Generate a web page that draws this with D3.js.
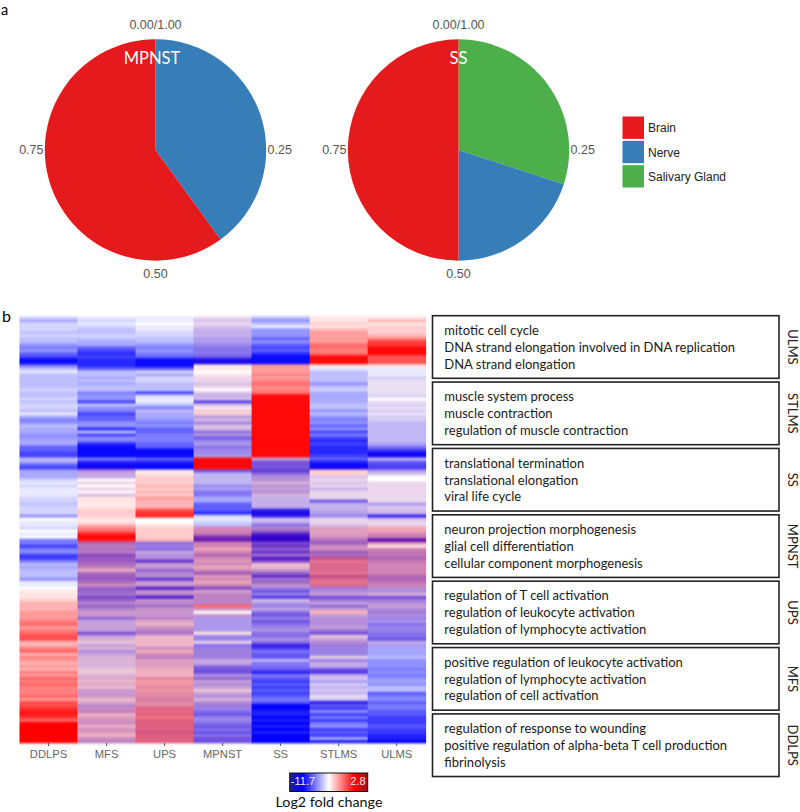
<!DOCTYPE html>
<html><head><meta charset="utf-8">
<script src="https://cdnjs.cloudflare.com/ajax/libs/d3/7.8.5/d3.min.js"></script>
<style>html,body{margin:0;padding:0;background:#fff}svg{display:block}</style>
</head><body><svg id="c" width="800" height="812"></svg>
<script>
// Pie data
const tissues = ["Brain","Nerve","Salivary Gland"];
const tissueColors = ["#e41a1c","#377eb8","#4daf4a"];
const mpnstShares = [{t:"Nerve",v:0.4},{t:"Brain",v:0.6}];
const ssShares = [{t:"Salivary Gland",v:0.3},{t:"Nerve",v:0.2},{t:"Brain",v:0.5}];

// Heatmap data: scaled fold-change level per row, -10 (full blue) to 10 (full red)
const sarcomas = ["DDLPS","MFS","UPS","MPNST","SS","STLMS","ULMS"];
const DDLPS = [-2,-4,-2,-2,-2,-3,-2,-3,-3,-5,
-6,-5,-7,-8,-10,-10,-6,-3,-1,-3,
-3,-3,-3,-3,-2,-3,-3,-2,-3,-2,
-2,-3,-1,-4,-6,-5,-3,-4,-4,-5,
-5,-4,-4,-7,-7,-8,-8,-3,-4,-7,
-8,-4,-4,-4,-2,-1,-2,-1,-1,-1,
-2,-2,-3,-2,-2,-2,-5,0,-1,-1,
-2,0,-1,0,-6,-6,-8,-6,-5,-8,
-8,-6,-3,-4,-3,-3,-3,-5,-1,-1,
0,1,1,1,2,3,3,3,4,4,
4,5,6,4,5,6,7,7,3,3,
5,6,3,5,4,3,4,3,5,4,
6,5,6,5,5,5,6,4,7,7,
8,9,9,8,6,10,10,10,10,10,
10,10];
const MFS = [-1,-2,-1,-2,-3,-3,-2,-3,-4,-4,
-7,-8,-9,-8,-9,-9,-9,-7,-3,-3,
-4,-3,-4,-3,-3,-6,-5,-5,-8,-3,
-5,-6,-8,-7,-7,-5,-5,-9,-3,-8,
-5,-6,-9,-10,-10,-10,-10,-6,-9,-10,
-10,-4,-3,-3,0,-1,0,-1,0,-2,
1,1,1,1,2,2,2,1,1,3,
5,6,9,10,9,-5,-4,-5,-4,-7,
-6,-6,-5,-4,-1,-5,-6,-6,-5,-3,
-6,-6,-5,-7,-6,-4,-6,-4,-3,-3,
-6,-3,-3,-3,-3,-7,-3,-2,-1,-3,
-2,-4,-3,-2,-2,-2,-2,-1,-1,-2,
-2,-1,-2,-1,-3,-3,-3,-1,-2,-4,
-3,-4,-1,-2,-3,-3,-1,-3,-2,-1,
-3,-4];
const UPS = [-1,-1,0,-1,-1,-2,-2,-3,-3,-5,
-6,-5,-6,-7,-10,-10,-10,-7,-2,-4,
-2,-2,-3,-3,-3,-8,-2,-1,-1,-3,
-6,-3,-4,-4,-5,-6,-5,-7,-7,-6,
-6,-6,-7,-7,-10,-10,-10,-7,-9,-10,
-10,1,1,2,2,2,3,2,3,2,
4,3,3,3,7,8,9,0,0,1,
2,2,2,2,3,-6,-5,-6,-3,-4,
-4,-8,-3,-3,-6,-4,-4,-8,-3,-3,
-9,-3,-4,-9,-3,-4,-5,-3,-3,-3,
-4,-2,-1,-3,-4,-5,-1,-1,-1,-1,
-3,-1,-3,-4,-2,-2,-2,-1,-1,-1,
-2,-1,-1,-2,-1,-2,-2,-3,-2,-2,
-3,-2,-3,-1,-3,-3,-3,-3,-4,-3,
-3,-3];
const MPNST = [-1,-2,-1,-2,-3,-3,-3,-4,-4,-5,
-6,-6,-6,-7,-10,-10,1,1,0,1,
-1,-1,-2,-1,0,-2,-3,-2,-8,-2,
1,-1,2,-4,-2,-5,-2,-2,-6,-4,
-7,-5,-4,-6,-5,-5,-4,10,10,10,
10,-7,-3,-3,-3,-3,-5,-4,-6,-6,
-4,-4,-7,-7,-7,-9,-2,-1,-2,-3,
-3,-3,-4,-8,-9,-3,-3,-1,-3,-5,
-3,-2,-3,-1,-3,-6,-2,-3,-1,-3,
-7,-2,-4,-4,-4,-4,6,-3,0,-3,
-4,-4,-4,-4,-4,1,-5,-5,-1,-6,
-5,-5,-5,-5,-3,-3,-6,-7,-7,-4,
-6,-3,-4,-3,-1,-3,-4,-2,-4,-5,
-5,-6,-7,-5,-5,-6,-7,-6,-7,-6,
-7,-7];
const SS = [-3,-5,-3,-1,-5,-5,-5,-7,-5,-7,
-8,-7,-9,-10,-10,-10,4,4,4,5,
4,5,6,5,5,6,10,10,10,10,
10,10,10,10,10,10,10,10,10,10,
10,10,10,10,10,10,10,-3,-7,-7,
-7,-8,-6,-4,-4,-2,-4,-3,-4,-2,
-3,-3,-3,-3,-9,-10,-9,-2,-3,-6,
-4,-6,-9,-10,-10,-7,-8,-6,-8,-5,
-9,-7,-1,-1,-3,-6,-8,-5,-6,-3,
-5,-7,-5,-8,-2,-4,-5,-3,-6,-7,
-5,-7,-6,-5,-4,-6,-6,-4,-6,-9,
-8,-6,-7,-7,-3,-6,-6,-7,-9,-6,
-7,-8,-7,-8,-7,-8,-7,-6,-7,-10,
-10,-9,-9,-10,-9,-10,-9,-10,-9,-10,
-10,-10];
const STLMS = [1,1,2,1,3,4,4,4,4,6,
6,5,6,10,10,10,1,-1,-3,-3,
-3,-3,-5,-3,-2,-4,-4,-4,-4,-3,
-3,-5,-3,-5,-6,-5,-7,-5,-8,-6,
-8,-9,-8,-9,-9,-9,-8,-7,-9,-10,
-10,2,2,-2,-1,-2,-1,-3,-1,-1,
-1,-7,-3,-3,-3,-4,-5,-1,-1,-2,
-2,-2,-2,-3,-5,-6,-3,-3,-6,-5,
-5,-2,-3,-3,-3,-2,-5,-3,-2,-3,
-5,-4,-3,-7,-5,-3,-6,-3,3,-3,
-4,-4,-4,-3,-5,-7,-1,-3,-4,-5,
-5,-5,-5,-1,-5,-3,-3,-7,-8,-3,
-2,-4,-2,-3,-2,-3,-1,-2,-9,-7,
-8,-5,-8,-6,-8,-6,-5,-8,-7,-8,
-4,-9];
const ULMS = [1,3,1,2,2,2,3,5,8,8,
10,10,10,7,7,7,1,-1,-1,-1,
-2,-1,-1,-1,-1,-1,-2,0,-1,-2,
-1,-2,-1,-2,-2,-3,-3,-3,-3,-3,
-3,-3,-4,-6,-8,-10,-10,-3,-7,-8,
-8,-4,-2,0,0,-1,-1,-1,-1,-1,
-1,-1,-4,-2,-2,-3,-9,-2,-1,-1,
-1,-1,-3,-4,-10,-2,1,-3,-4,-4,
-5,-4,-3,-3,-3,-3,-5,-5,-4,-3,
-4,-4,-2,-7,-5,-4,-3,-4,-5,-4,
-5,-4,-6,-5,-5,-6,-6,-7,-3,-4,
-4,-4,-4,-3,-5,-5,-5,-6,-5,-6,
-5,-4,-5,-3,-3,-7,-6,-5,-7,-6,
-6,-7,-7,-8,-8,-8,-7,-8,-8,-9,
-9,-10];
// Red admixture of finely interleaved rows, one value per 10 heatmap rows
const DDLPSmix = [0,0,0,0,0,0,0,0,0,0,0,0,0,0,0];
const MFSmix = [0,0,0,0,0,.12,0,.25,.25,.2,.15,.15,.2,.25,.25];
const UPSmix = [0,0,0,0,0,0,0,.12,.18,.2,.22,.25,.35,.5,.5];
const MPNSTmix = [.08,.08,.1,.12,.08,.05,0,.3,.28,.22,.08,.12,.15,.08,.12];
const SSmix = [0,0,0,0,.15,.15,.08,.2,.2,.1,.1,.04,0,0,0];
const STLMSmix = [0,0,0,0,0,.08,.08,.25,.45,.15,.15,.1,.05,0,0];
const ULMSmix = [0,0,.04,.04,.04,.08,.08,.3,.3,.15,.08,0,0,0,0];

const terms = [
 ["ULMS",["mitotic cell cycle","DNA strand elongation involved in DNA replication","DNA strand elongation"]],
 ["STLMS",["muscle system process","muscle contraction","regulation of muscle contraction"]],
 ["SS",["translational termination","translational elongation","viral life cycle"]],
 ["MPNST",["neuron projection morphogenesis","glial cell differentiation","cellular component morphogenesis"]],
 ["UPS",["regulation of T cell activation","regulation of leukocyte activation","regulation of lymphocyte activation"]],
 ["MFS",["positive regulation of leukocyte activation","regulation of lymphocyte activation","regulation of cell activation"]],
 ["DDLPS",["regulation of response to wounding","positive regulation of alpha-beta T cell production","fibrinolysis"]]
];
const pieTicks = [["0.00/1.00",0],["0.25",.25],["0.50",.5],["0.75",.75]];
const colorbarLabels = ["-11.7","2.8"];

const svg = d3.select("#c");
const serif = "Lato, 'Open Sans', sans-serif", sans = "'Liberation Sans', Arial, sans-serif";
const tissueColor = d3.scaleOrdinal(tissues, tissueColors);

// ---------- panel labels
svg.append("text").attr("x",1).attr("y",14.5).attr("font-family",serif).attr("font-size",14.5).text("a");
svg.append("text").attr("x",2).attr("y",322).attr("font-family",serif).attr("font-size",16).text("b");

// ---------- pies
function drawPie(cx, cy, r, shares, title){
  const g = svg.append("g").attr("transform",`translate(${cx},${cy})`);
  const pie = d3.pie().sort(null).value(d=>d.v);
  const arc = d3.arc().innerRadius(0).outerRadius(r);
  g.selectAll("path").data(pie(shares)).join("path").attr("d",arc).attr("fill",d=>tissueColor(d.data.t));
  const ang = d3.scaleLinear().domain([0,1]).range([0,2*Math.PI]);
  g.selectAll("text.tk").data(pieTicks).join("text").attr("class","tk")
   .attr("x",d=>Math.sin(ang(d[1]))*(d[1]===0||d[1]===.5?0:r+13.5))
   .attr("y",d=>d[1]===0?-124:d[1]===.5?125:1)
   .attr("text-anchor","middle").attr("dominant-baseline","middle")
   .attr("font-family",sans).attr("font-size",12.5).attr("fill","#555").text(d=>d[0]);
  g.append("text").attr("x",title==="SS"?0:-3.5).attr("y",-90).attr("text-anchor","middle").attr("dominant-baseline","middle")
   .attr("font-family",serif).attr("font-size",16.5).attr("fill","#fff").text(title);
}
drawPie(155.5,150,110.7,mpnstShares,"MPNST");
drawPie(458.5,150,110.7,ssShares,"SS");

// pie legend
const legY = d3.scaleBand().domain(tissues).range([116,188]).paddingInner(0.08).paddingOuter(0.02);
const leg = svg.append("g");
leg.selectAll("rect").data(tissues).join("rect").attr("x",622.5).attr("width",21.5)
  .attr("y",d=>legY(d)).attr("height",legY.bandwidth()).attr("fill",d=>tissueColor(d));
leg.selectAll("text").data(tissues).join("text").attr("x",648).attr("y",d=>legY(d)+legY.bandwidth()/2+1.5)
  .attr("dominant-baseline","middle").attr("font-family",sans).attr("font-size",12).attr("fill","#222").text(d=>d);

// ---------- heatmap
const columns = [DDLPS,MFS,UPS,MPNST,SS,STLMS,ULMS];
const mixes = [DDLPSmix,MFSmix,UPSmix,MPNSTmix,SSmix,STLMSmix,ULMSmix];
const nRows = DDLPS.length;
const x = d3.scaleBand().domain(sarcomas).range([19.5,425.7]);
const y = d3.scaleBand().domain(d3.range(nRows)).range([316.3,743]);
const level = d3.scaleLinear().domain([-10,-6,0,10]).range(["#0000ff","#7a7aff","#ffffff","#ff0000"]);
const defs = svg.append("defs");
defs.append("filter").attr("id","soft").attr("x","0").attr("width","1").attr("y","-0.01").attr("height","1.02")
  .attr("color-interpolation-filters","sRGB")
  .append("feGaussianBlur").attr("stdDeviation","0 0.8");
const hm = svg.append("g").attr("filter","url(#soft)");
sarcomas.forEach((name,c)=>{
  hm.append("g").selectAll("rect").data(columns[c]).join("rect")
    .attr("x",x(name)).attr("width",x.bandwidth()+.4)
    .attr("y",(d,i)=>y(i)).attr("height",y.bandwidth()+.3)
    .attr("fill",(d,i)=>{
      const m = d<0 ? mixes[c][Math.floor(i/10)] : 0;
      return d3.interpolateRgb(level(d),"#ff0000")(m);
    });
});
const ax = svg.append("g").attr("transform","translate(0,743)")
  .call(d3.axisBottom(x).tickSize(3).tickSizeOuter(0).tickPadding(4));
ax.select(".domain").remove();
ax.selectAll("line").attr("stroke","#555");
ax.selectAll("text").attr("font-family",sans).attr("font-size",11.2).attr("fill","#666");

// colour bar
const barStops = [[0,"#20209a"],[.17,"#0000ff"],[.5,"#ffffff"],[.83,"#ff0000"],[1,"#a01010"]];
const grad = defs.append("linearGradient").attr("id","cb");
grad.selectAll("stop").data(barStops).join("stop").attr("offset",d=>d[0]).attr("stop-color",d=>d[1]);
svg.append("rect").attr("x",289.7).attr("y",773).attr("width",78).attr("height",18.5)
   .attr("fill","url(#cb)").attr("stroke","#111").attr("stroke-width",1);
svg.selectAll("text.cb").data(colorbarLabels).join("text").attr("class","cb")
   .attr("x",(d,i)=>i?358:303).attr("y",782.5).attr("text-anchor","middle").attr("dominant-baseline","middle")
   .attr("font-family",sans).attr("font-size",11).attr("fill","#f4e8f0").text(d=>d);
svg.append("text").attr("x",329).attr("y",807).attr("text-anchor","middle")
   .attr("font-family",serif).attr("font-size",14.3).attr("fill","#111").text("Log2 fold change");

// ---------- term boxes
const boxY = d3.scaleBand().domain(terms.map(d=>d[0])).range([315.7,780.3]);
terms.forEach(([name,lines])=>{
  const y0 = boxY(name), g = svg.append("g");
  g.append("rect").attr("x",432.5).attr("y",y0).attr("width",346.5).attr("height",62.6)
    .attr("fill","#fff").attr("stroke","#222").attr("stroke-width",1.6);
  g.selectAll("text").data(lines).join("text").attr("x",444.3).attr("y",(d,i)=>y0+19.3+i*16.8)
    .attr("font-family",serif).attr("font-size",13).attr("fill","#1a1a1a").text(d=>d);
  g.append("text").attr("transform",`translate(788,${y0+31.3}) rotate(90)`).attr("text-anchor","middle")
    .attr("font-family",serif).attr("font-size",13).attr("fill","#222").text(name);
});
</script></body></html>
